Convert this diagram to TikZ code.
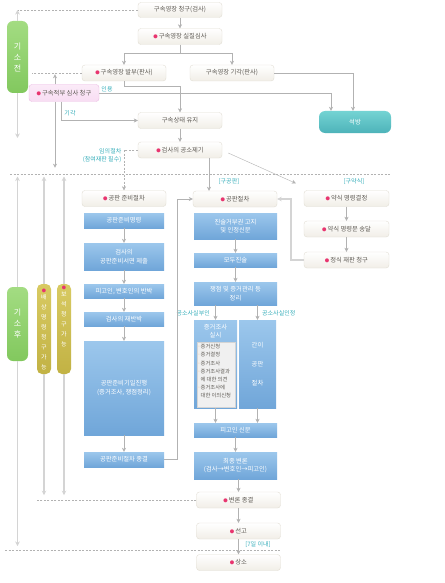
\documentclass[tikz,border=0pt]{standalone}
\usepackage{fontspec}
\setmainfont{Noto Sans CJK KR}
\usetikzlibrary{arrows.meta}

\definecolor{boxfill}{HTML}{F1EEE7}
\definecolor{boxline}{HTML}{E2DED4}
\definecolor{boxtext}{HTML}{5E5A54}
\definecolor{dotpink}{HTML}{E8356F}
\definecolor{dotorange}{HTML}{F0963C}
\definecolor{bluetop}{HTML}{9CC7EC}
\definecolor{bluebot}{HTML}{70A6D9}
\definecolor{greentop}{HTML}{A3DC82}
\definecolor{greenbot}{HTML}{82C85E}
\definecolor{olivetop}{HTML}{D8CA62}
\definecolor{olivebot}{HTML}{C2B244}
\definecolor{tealtop}{HTML}{74D3D3}
\definecolor{tealbot}{HTML}{4DB3B9}
\definecolor{pinkfill}{HTML}{F8DDF3}
\definecolor{pinkline}{HTML}{EBBDE4}
\definecolor{labcyan}{HTML}{38AFBB}
\definecolor{linegray}{HTML}{B2B2B2}
\definecolor{barline}{HTML}{D4D4D4}

\newcommand\pd{\textcolor{dotpink}{\scalebox{0.7}{●}}\,}
\newcommand\od{\textcolor{dotorange}{·}}

\tikzset{
  stepbox/.style={draw=boxline, top color=white, bottom color=boxfill, rounded corners=3pt,
    minimum width=84, minimum height=16, inner sep=0, text=boxtext,
    font=\fontsize{6.3}{7.5}\selectfont},
  bluebox/.style={top color=bluetop, bottom color=bluebot, minimum width=80, inner sep=0,
    text=white, align=center, font=\fontsize{6.3}{8.5}\selectfont},
  sidebar/.style={top color=greentop, bottom color=greenbot, rounded corners=6pt, minimum width=21,
    inner sep=0, text=white, align=center, font=\fontsize{8}{11}\selectfont},
  olivebar/.style={top color=olivetop, bottom color=olivebot, rounded corners=5pt, minimum width=14,
    minimum height=90, inner sep=0, text=white, align=center, font=\fontsize{6}{10}\selectfont},
  lab/.style={text=labcyan, inner sep=0, font=\fontsize{6}{8}\selectfont},
  arr/.style={draw=linegray, -{Stealth[length=4pt,width=4pt]}},
  dashline/.style={draw=linegray, dash pattern=on 2pt off 1.5pt},
  barlink/.style={draw=barline, line width=1.3pt, -{Stealth[length=4.5pt,width=4.5pt]}}
}

\begin{document}
\begin{tikzpicture}[x=1pt, y=-1pt]

\fill[white] (0,0) rectangle (444,583);

% before indictment
\node[stepbox, minimum height=15] (b1) at (180,10) {구속영장 청구(검사)};
\node[stepbox] (b2) at (180,36.5) {\pd 구속영장 실질심사};
\node[stepbox] (b3) at (124,73) {\pd 구속영장 발부(판사)};
\node[stepbox] (b4) at (232,73) {구속영장 기각(판사)};
\node[stepbox, draw=pinkline, top color=pinkfill!60, bottom color=pinkfill, minimum width=70, minimum height=17] (pink) at (64,93) {\pd 구속적부 심사 청구};
\node[stepbox] (b5) at (180,120.5) {구속상태 유지};
\node[stepbox, draw=none, top color=tealtop, bottom color=tealbot, rounded corners=6pt, minimum width=72, minimum height=22, text=white] (free) at (355,122) {석방};
\node[stepbox] (b6) at (180,150) {\pd 검사의 공소제기};
\node[sidebar, minimum height=72] (g1) at (17.5,57) {기\\소\\전};

% public trial preparation
\node[stepbox] (c1) at (124,198.5) {\pd 공판 준비절차};
\node[bluebox, minimum height=15] (c2) at (124,220.5) {공판준비명령};
\node[bluebox, minimum height=27] (c3) at (124,256.5) {검사의\\공판준비서면 제출};
\node[bluebox, minimum height=14] (c4) at (124,291) {피고인, 변호인의 반박};
\node[bluebox, minimum height=14] (c5) at (124,319) {검사의 재반박};
\node[bluebox, minimum height=94] (c6) at (124,388) {공판준비기일진행\\(증거조사, 쟁점정리)};
\node[bluebox, minimum height=15] (c7) at (124,459.5) {공판준비절차 종결};

% public trial
\node[stepbox] (d1) at (235,199) {\pd 공판절차};
\node[bluebox, minimum width=83, minimum height=26] (d2) at (235.5,226) {진술거부권 고지\\및 인정신문};
\node[bluebox, minimum width=83, minimum height=14] (d3) at (235.5,260) {모두진술};
\node[bluebox, minimum width=83, minimum height=23] (d4) at (235.5,293.5) {쟁점 및 증거관리 등\\정리};
\node[bluebox, minimum width=43, minimum height=88] (d5) at (215.5,364) {};
\node[text=white, align=center, inner sep=0, font=\fontsize{6.3}{8.5}\selectfont] (d5t) at (215.5,331) {증거조사\\실시};
\node[fill=white!94!black, draw=barline, minimum width=38, minimum height=65, inner sep=0] (d5l) at (216,374.5) {};
\node[anchor=north west, align=left, inner sep=0, text=boxtext, font=\fontsize{5.3}{8.6}\selectfont] (d5i) at (197.5,343.5)
  {\od 증거신청\\\od 증거결정\\\od 증거조사\\\od 증거조사결과\\[-1.2pt]\phantom{\od}에 대한 의견\\\od 증거조사에\\[-1.2pt]\phantom{\od}대한 이의신청};
\node[bluebox, minimum width=37, minimum height=88, font=\fontsize{6.3}{19}\selectfont] (d6) at (257.5,364) {간이\\공판\\절차};
\node[bluebox, minimum width=83, minimum height=14] (d7) at (235.5,430) {피고인 신문};
\node[bluebox, minimum width=83, minimum height=27] (d8) at (235.5,465.5) {최종 변론\\(검사→변호인→피고인)};
\node[stepbox] (e1) at (238.5,500) {\pd 변론 종결};
\node[stepbox] (e2) at (238.5,531) {\pd 선고};
\node[stepbox] (e3) at (238.5,562.5) {\pd 상소};

% summary order
\node[stepbox, minimum width=85] (f1) at (346.5,198.5) {\pd 약식 명령결정};
\node[stepbox, minimum width=85] (f2) at (346.5,229) {\pd 약식 명령문 송달};
\node[stepbox, minimum width=85] (f3) at (346.5,260) {\pd 정식 재판 청구};

% after indictment
\node[sidebar, minimum height=74] (g2) at (17.5,324) {기\\소\\후};
\node[olivebar] (o1) at (44,329) {\textcolor{dotpink}{\scalebox{0.7}{●}}\\[-3pt]배\\상\\명\\령\\청\\구\\가\\능};
\node[olivebar] (o2) at (64,329) {\textcolor{dotpink}{\scalebox{0.7}{●}}\\[-3pt]보\\석\\청\\구\\가\\능\\[16pt]};

% labels
\node[lab] (l1) at (107,89) {인용};
\node[lab] (l2) at (70,113) {기각};
\node[lab, anchor=east, align=right] (l3) at (121.5,155.5) {임의절차\\(참여재판 필수)};
\node[lab] (l4) at (229,182) {[구공판]};
\node[lab] (l5) at (354,182) {[구약식]};
\node[lab, anchor=east] (l6) at (210,313) {공소사실부인};
\node[lab, anchor=west] (l7) at (262,313) {공소사실인정};
\node[lab] (l8) at (258,545) {[7일 이내]};

\coordinate (split) at (180,53);
\coordinate (g1end) at (17.5,138);
\coordinate (g2top) at (17.5,176.5);
\coordinate (g2end) at (17.5,546);

% separators
\draw[dashline] (10,174) -- (391,174);
\draw[dashline] (5,550) -- (280,550);
\draw[dashline] (b1.west) -- (g1.north |- b1.west);
\draw[dashline] (b3.west) -- (32,73);
\draw[dashline] (e1.west) -- (36,500);

% flow before indictment
\draw[arr] (b1) -- (b2);
\draw[draw=linegray] (b2.south) -- (split);
\draw[arr] (split) -| (b3.north);
\draw[arr] (split) -| (b4.north);
\draw[arr] (b3.south) -- ++(0,5) -| (b5.north);
\draw[arr] (b4.east) -| ([xshift=-2]free.north);
\draw[arr] (pink.east) -| ([xshift=-24]free.north);
\draw[arr] ([xshift=-3]pink.south) |- (b5.west);
\draw[arr] ([xshift=-9]pink.north) -- ++(0,-10);
\draw[arr] ([xshift=-9]pink.south) -- ++(0,66);
\draw[arr] (b5) -- (b6);
\draw[arr, dashline] (b6.west) -| (c1.north);
\draw[arr] ([xshift=29]b6.south) -- ([xshift=-26]d1.north);
\draw[arr] ([shift={(6,3)}]b6.east) -- ([shift={(-8,-7)}]f1.north west);
\draw[barlink] (g1.north) -- (g1.north |- b1.west);
\draw[barlink] (g1.south) -- (g1end);

% flow after indictment
\foreach \a/\b in {c2/c3,c3/c4,c4/c5,c5/c6,c6/c7,d2/d3,d3/d4,d7/d8,f1/f2,f2/f3,e1/e2,e2/e3}
  {\draw[arr] (\a.south) -- (\a.south |- \b.north);}
\draw[arr] (d8.south -| e1.south) -- (e1.north);
\draw[arr] (d4.south -| d5.south) -- (d5.north);
\draw[arr] (d4.south -| d6.south) -- (d6.north);
\draw[arr] (d5.south) -- (d5.south |- d7.north);
\draw[arr] (d6.south) -- (d6.south |- d7.north);
\draw[arr] (c7.east) -- ++(13,0) |- (d1.west);
\draw[barlink, line width=1.6pt] (f3.west) -- ++(-13,0) |- (d1.east);
\draw[barlink] (g2.north) -- (g2top);
\draw[barlink] (g2.south) -- (g2end);
\foreach \o in {o1,o2} {
  \draw[barlink] (\o.north) -- (\o.north |- g2top);
  \draw[barlink] (\o.south) -- ++(0,121);
}

\end{tikzpicture}
\end{document}
